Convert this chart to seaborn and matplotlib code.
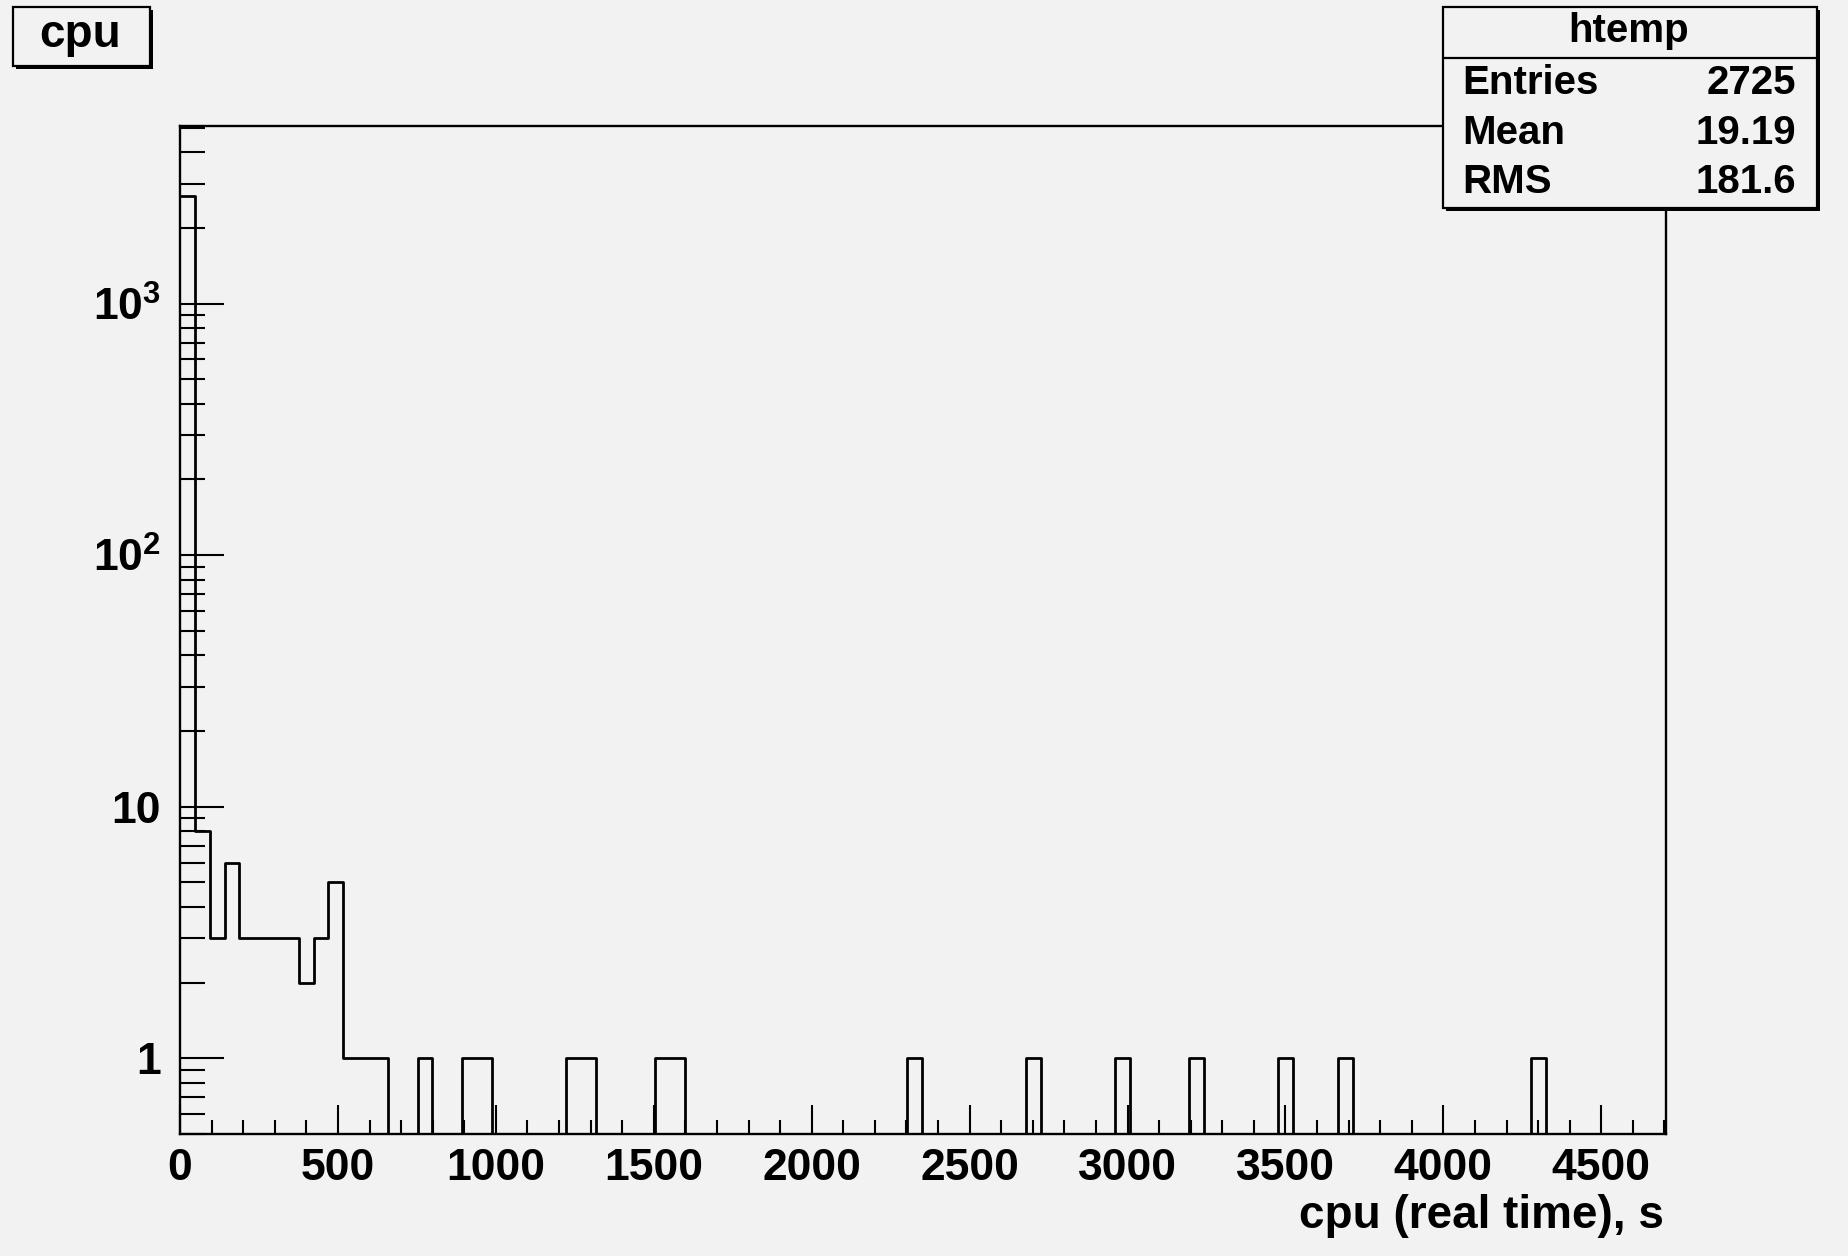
import numpy as np
import pandas as pd
import matplotlib
matplotlib.use("Agg")
import matplotlib.pyplot as plt
from matplotlib.patches import Rectangle
from matplotlib.lines import Line2D
from matplotlib.ticker import FixedLocator, FixedFormatter, MultipleLocator, LogLocator, NullFormatter
import seaborn as sns

# htemp: 100 bins of 47 s between 0 and 4700 s, only the filled bins are listed
n_bins = 100
x_min = 0
x_max = 4700
bin_no = [0, 1, 2, 3, 4, 5, 6, 7, 8, 9, 10, 11, 12, 13, 16, 19, 20, 26, 27,
          32, 33, 49, 57, 63, 68, 74, 78, 91]
entries = [2669, 8, 3, 6, 3, 3, 3, 3, 2, 3, 5, 1, 1, 1, 1, 1, 1, 1, 1,
           1, 1, 1, 1, 1, 1, 1, 1, 1]

stat_names = ["Entries", "Mean", "RMS"]
stat_values = ["2725", "19.19", "181.6"]

x_ticks = [0, 500, 1000, 1500, 2000, 2500, 3000, 3500, 4000, 4500]
y_ticks = [1, 10, 100, 1000]
y_tick_labels = ["1", "10", "$10^{2}$", "$10^{3}$"]

bg = "#f2f2f2"
sns.set_style("ticks")
plt.rcParams["font.family"] = ["Liberation Sans", "DejaVu Sans"]
plt.rcParams["font.weight"] = "bold"
plt.rcParams["mathtext.fontset"] = "custom"
plt.rcParams["mathtext.rm"] = "Liberation Sans:bold"
plt.rcParams["mathtext.it"] = "Liberation Sans:bold"
plt.rcParams["mathtext.bf"] = "Liberation Sans:bold"
plt.rcParams["text.color"] = "black"
plt.rcParams["xtick.color"] = "black"
plt.rcParams["ytick.color"] = "black"
plt.rcParams["xtick.labelcolor"] = "black"
plt.rcParams["ytick.labelcolor"] = "black"

W, H = 1848, 1256


def fx(px):
    return px / W


def fy(py):
    return 1 - py / H


def draw_box(fig, x0, y0, x1, y1, shadow=3):
    # ROOT style pave: black shadow down-right, then the box
    fig.add_artist(Rectangle((fx(x0 + shadow), fy(y1 + shadow)), fx(x1) - fx(x0), fy(y0) - fy(y1),
                             transform=fig.transFigure, facecolor="black", edgecolor="black",
                             lw=0, zorder=5))
    fig.add_artist(Rectangle((fx(x0), fy(y1)), fx(x1) - fx(x0), fy(y0) - fy(y1),
                             transform=fig.transFigure, facecolor=bg, edgecolor="black",
                             lw=1.6, zorder=6))


width = (x_max - x_min) / n_bins
edges = [x_min + i * width for i in range(n_bins + 1)]
df = pd.DataFrame({"cpu": [x_min + (b + 0.5) * width for b in bin_no],
                   "n": entries})

fig = plt.figure(figsize=(W / 100, H / 100), dpi=100, facecolor=bg)
ax = fig.add_axes([fx(180), fy(1134), fx(1666) - fx(180), fy(126) - fy(1134)], facecolor=bg)

sns.histplot(data=df, x="cpu", weights="n", bins=edges, element="step", fill=False,
             color="black", linewidth=2.0, ax=ax)
ax.set_yscale("log")
ax.set_xlim(x_min, x_max + 5)
ax.set_ylim(0.5, 5080)
ax.set_xlabel("")
ax.set_ylabel("")

ax.xaxis.set_major_locator(FixedLocator(x_ticks))
ax.xaxis.set_minor_locator(MultipleLocator(100))
ax.yaxis.set_major_locator(FixedLocator(y_ticks))
ax.yaxis.set_major_formatter(FixedFormatter(y_tick_labels))
ax.yaxis.set_minor_locator(LogLocator(base=10, subs=np.arange(2, 10), numticks=30))
ax.yaxis.set_minor_formatter(NullFormatter())

ax.tick_params(axis="x", which="major", direction="in", length=21, width=1.5,
               labelsize=32, pad=10, top=False, colors="black")
ax.tick_params(axis="x", which="minor", direction="in", length=10, width=1.5, top=False,
               colors="black")
ax.tick_params(axis="y", which="major", direction="in", length=32, width=1.5,
               labelsize=32, pad=14, right=False, colors="black")
ax.tick_params(axis="y", which="minor", direction="in", length=18, width=1.5, right=False,
               colors="black")
for s in ax.spines.values():
    s.set_visible(True)
    s.set_linewidth(1.7)
    s.set_color("black")

fig.text(fx(1664), fy(1216), "cpu (real time), s", ha="right", va="center",
         fontsize=33, fontweight="bold", color="black")

# title pave
draw_box(fig, 13, 7, 150, 66)
fig.text(fx(80), fy(35), "cpu", ha="center", va="center", fontsize=33,
         fontweight="bold", color="black", zorder=7)

# stats pave
draw_box(fig, 1443, 7, 1817, 208)
fig.add_artist(Line2D([fx(1443), fx(1817)], [fy(58), fy(58)], transform=fig.transFigure,
                      color="black", lw=1.6, zorder=7))
fig.text(fx(1629), fy(31), "htemp", ha="center", va="center", fontsize=29,
         fontweight="bold", color="black", zorder=7)
for i, (name, val) in enumerate(zip(stat_names, stat_values)):
    yy = [83, 133, 182][i]
    fig.text(fx(1462), fy(yy), name, ha="left", va="center", fontsize=29,
             fontweight="bold", color="black", zorder=7)
    fig.text(fx(1796), fy(yy), val, ha="right", va="center", fontsize=29,
             fontweight="bold", color="black", zorder=7)

fig.savefig("out.png", dpi=100, facecolor=bg)
